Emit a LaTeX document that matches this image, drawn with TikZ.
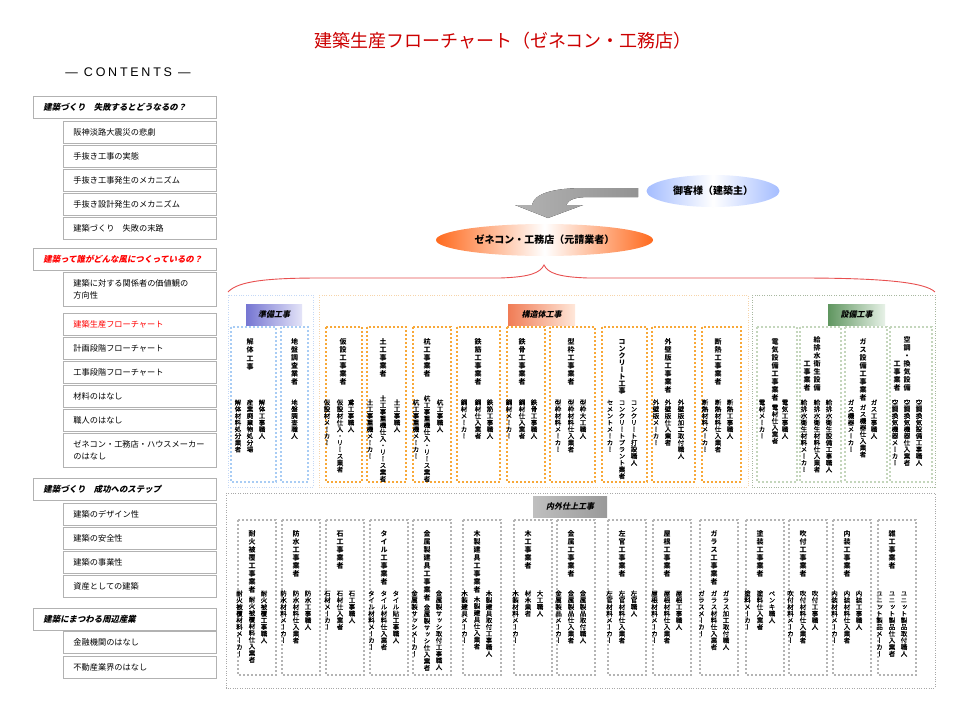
\documentclass[tikz,border=0pt]{standalone}
\usepackage{fontspec}
\setmainfont{Noto Sans CJK JP}
\newfontfamily\vfont{Noto Sans CJK JP}[RawFeature=+vert]
\newfontfamily\vsfont{Noto Sans CJK JP}[RawFeature=+vert, FakeBold=0.5]
\newfontfamily\hdfont{Noto Sans CJK JP}[FakeSlant=0.22]
\newfontfamily\latfont{Liberation Sans}[LetterSpace=22]
\usetikzlibrary{shapes.geometric}
\definecolor{titlered}{HTML}{CC0000}
\definecolor{custblue}{HTML}{A4BCFF}
\definecolor{genorange}{HTML}{FF6A1E}
\definecolor{bracered}{HTML}{E85050}
\definecolor{blueout}{HTML}{C4D8F6}
\definecolor{bluein}{HTML}{A8CCF4}
\definecolor{orout}{HTML}{F6D4AA}
\definecolor{orin}{HTML}{F8A838}
\definecolor{grout}{HTML}{A8B8A0}
\definecolor{grin}{HTML}{C4D6BC}
\definecolor{gyout}{HTML}{A8A8A8}
\definecolor{gyin}{HTML}{B4B4B4}
\def\vtgap{.5pt}
\ExplSyntaxOn
\NewDocumentCommand\vt{O{\vtgap}m}
 {
  \vbox:n
   {
    \offinterlineskip
    \tl_map_inline:nn {#2}
     {
      \hbox_to_wd:nn {1em} { \hss \rule[-.12em]{0pt}{1em} ##1 \hss }
      \kern #1
     }
   }
 }
\ExplSyntaxOff
\tikzset{
  sbsub/.style={draw=gray!60, line width=.9pt, anchor=north west, minimum height=22pt,
    text width=133pt, inner xsep=10pt, inner ysep=2pt, align=left,
    font=\fontsize{8.2}{12}\selectfont},
  sbhead/.style={sbsub, text width=163pt, font=\fontsize{8.4}{12}\selectfont\hdfont\bfseries},
  vtitle/.style={anchor=north, inner sep=0pt, font=\vfont\bfseries\fontsize{7}{7}\selectfont\def\vtgap{1pt}},
  vsub/.style={anchor=north, inner sep=0pt, font=\vsfont\fontsize{6.5}{6.5}\selectfont\def\vtgap{.2pt}},
  lbl/.style={anchor=north west, minimum height=21pt, inner sep=0pt, font=\hdfont\bfseries\fontsize{8}{10}\selectfont},
  outerdot/.style={line width=.8pt, dash pattern=on 1pt off 1.4pt},
  innerdot/.style={line width=2pt, dash pattern=on 2pt off 2pt},
}
\newcommand\vT[3]{\node[vtitle] (#1) at (#2) {\vt{#3}};}
\newcommand\vS[3]{\node[vsub] (#1) at (#2) {\vt{#3}};}
\newcommand\lowbox[7][590]{%
  \draw[innerdot, gyin] (#3,520) rectangle ++(38,155);
  \node[vtitle] (#2t) at ({#3+14},530) {\vt{#4}};
  \node[vsub] (#2r) at ({#3+26},590) {\vt{#5}};
  \node[vsub] (#2m) at ({#3+14},#1) {\vt{#6}};
  \node[vsub] (#2l) at ({#3+1.5},590) {\vt{#7}};
}
\begin{document}
\begin{tikzpicture}[x=1pt,y=-1pt]
\useasboundingbox (0,0) rectangle (960,720);
\fill[white] (0,0) rectangle (960,720);

% title
\node[text=titlered, font=\fontsize{18}{20}\selectfont] (title) at (503,41) {建築生産フローチャート（ゼネコン・工務店）};

% sidebar
\node[font=\latfont\fontsize{12.5}{14}\selectfont] (contents) at (128,72) {— CONTENTS —};
\node[sbhead] (h1) at (33,96) {建築づくり　失敗するとどうなるの？};
\node[sbsub] (s11) at (63,121) {阪神淡路大震災の悲劇};
\node[sbsub] (s12) at (63,145) {手抜き工事の実態};
\node[sbsub] (s13) at (63,169) {手抜き工事発生のメカニズム};
\node[sbsub] (s14) at (63,193) {手抜き設計発生のメカニズム};
\node[sbsub] (s15) at (63,217) {建築づくり　失敗の末路};
\node[sbhead, text=red] (h2) at (33,248) {建築って誰がどんな風につくっているの？};
\node[sbsub, minimum height=34pt] (s21) at (63,272) {建築に対する関係者の価値観の\\方向性};
\node[sbsub, text=red] (s22) at (63,313) {建築生産フローチャート};
\node[sbsub] (s23) at (63,337) {計画段階フローチャート};
\node[sbsub] (s24) at (63,361) {工事段階フローチャート};
\node[sbsub] (s25) at (63,385) {材料のはなし};
\node[sbsub] (s26) at (63,409) {職人のはなし};
\node[sbsub, minimum height=34pt] (s27) at (63,433) {ゼネコン・工務店・ハウスメーカー\\のはなし};
\node[sbhead] (h3) at (33,478) {建築づくり　成功へのステップ};
\node[sbsub] (s31) at (63,503) {建築のデザイン性};
\node[sbsub] (s32) at (63,527) {建築の安全性};
\node[sbsub] (s33) at (63,551) {建築の事業性};
\node[sbsub] (s34) at (63,575) {資産としての建築};
\node[sbhead] (h4) at (33,608) {建築にまつわる周辺産業};
\node[sbsub] (s41) at (63,631) {金融機関のはなし};
\node[sbsub] (s42) at (63,656) {不動産業界のはなし};

% customer and general contractor
\node[ellipse, minimum width=133pt, minimum height=32pt, inner sep=0pt,
  left color=custblue, right color=custblue, middle color=white,
  font=\bfseries\fontsize{10}{12}\selectfont] (cust) at (713,191) {御客様（建築主）};
\fill[left color=gray!60, middle color=gray!10, right color=gray!85]
  (638,188) -- (585,188) .. controls (552,188) and (534,194) .. (532,205)
  -- (515,205) -- (548,218) -- (583,205) -- (566,205)
  .. controls (569,199) and (576,197) .. (590,197) -- (638,197) -- cycle;
\node[ellipse, minimum width=217pt, minimum height=32pt, inner sep=0pt,
  left color=genorange, right color=genorange, middle color=white,
  font=\bfseries\fontsize{10}{12}\selectfont] (gen) at (544.5,240) {ゼネコン・工務店（元請業者）};

% brace
\draw[bracered, line width=.9pt]
  (228,292) .. controls (238,281) and (268,278) .. (320,278) -- (500,278)
  .. controls (530,277) and (540,273) .. (544,265)
  .. controls (548,273) and (558,277) .. (588,278) -- (800,278)
  .. controls (880,278) and (925,282) .. (935,292);

% group frames
\draw[outerdot, blueout] (228,295) rectangle (313,487);
\draw[outerdot, orout] (319,295) rectangle (748,487);
\draw[outerdot, grout] (752,295) rectangle (935,487);
\draw[outerdot, gyout] (226,493) rectangle (935,688);

% group labels
\node[lbl, minimum width=56pt, left color={rgb,255:red,118;green,118;blue,210}, right color={rgb,255:red,228;green,228;blue,248}] (lblprep) at (246,304) {準備工事};
\node[lbl, minimum width=67pt, left color={rgb,255:red,240;green,124;blue,86}, right color={rgb,255:red,255;green,232;blue,218}] (lblstruct) at (508,304) {構造体工事};
\node[lbl, minimum width=57pt, left color={rgb,255:red,96;green,150;blue,96}, right color={rgb,255:red,232;green,242;blue,232}] (lblequip) at (828,304) {設備工事};
\node[lbl, minimum width=74pt, left color=gray!50, middle color=gray!8, right color=gray!80] (lblfinish) at (533,496) {内外仕上工事};

% ---- preparation
\draw[innerdot, bluein] (231,327) rectangle (276,482);
\node[vtitle, font=\vfont\bfseries\fontsize{7}{7}\selectfont\def\vtgap{1.5pt}] (kaitaiT) at (250,338) {\vt{解体工事}};
\vS{kaitai1}{262,399}{解体工事職人}
\vS{kaitai2}{250,399}{産業廃棄物処分場}
\vS{kaitai3}{238,399}{解体材料処分業者}
\draw[innerdot, bluein] (281,327) rectangle (308,482);
\vT{jibanT}{294.5,338}{地盤調査業者}
\vS{jiban1}{294.5,399}{地盤調査職人}

% ---- structure
\draw[innerdot, orin] (326,327) rectangle (362,482);
\vT{kasetsuT}{343,338}{仮設工事業者}
\vS{kasetsu1}{351,399}{鳶工事職人}
\vS{kasetsu2}{340,399}{仮設材仕入・リース業者}
\vS{kasetsu3}{327,399}{仮設材メーカー}
\draw[innerdot, orin] (367,327) rectangle (406,482);
\vT{doT}{383,338}{土工事業者}
\vS{do1}{397,399}{土工事職人}
\vS{do2}{383,395}{土工事重機仕入・リース業者}
\vS{do3}{370,399}{土工事重機メーカー}
\draw[innerdot, orin] (413,327) rectangle (451,482);
\vT{kuiT}{427,338}{杭工事業者}
\vS{kui1}{440,399}{杭工事職人}
\vS{kui2}{427,395}{杭工事重機仕入・リース業者}
\vS{kui3}{416,399}{杭工事重機メーカー}
\draw[innerdot, orin] (457,327) rectangle (500,482);
\vT{tekkinT}{478,338}{鉄筋工事業者}
\vS{tekkin1}{490,399}{鉄筋工事職人}
\vS{tekkin2}{478,399}{鋼材仕入業者}
\vS{tekkin3}{464,399}{鋼材メーカー}
\draw[innerdot, orin] (507,327) rectangle (545,482);
\vT{tekkotsuT}{522,338}{鉄骨工事業者}
\vS{tekkotsu1}{534,399}{鉄骨工事職人}
\vS{tekkotsu2}{522,399}{鋼材仕入業者}
\vS{tekkotsu3}{509,399}{鋼材メーカー}
\draw[innerdot, orin] (550,327) rectangle (595,482);
\vT{katawakuT}{571,338}{型枠工事業者}
\vS{katawaku1}{583,399}{型枠大工職人}
\vS{katawaku2}{571,399}{型枠材料仕入業者}
\vS{katawaku3}{558,399}{型枠材料メーカー}
\draw[innerdot, orin] (602,327) rectangle (647,482);
\node[vtitle, font=\vfont\bfseries\fontsize{7}{7}\selectfont\def\vtgap{0pt}] (concT) at (622,338) {\vt{コンクリート工事}};
\vS{conc1}{634,399}{コンクリート打設職人}
\vS{conc2}{622,399}{コンクリートプラント業者}
\vS{conc3}{610,399}{セメントメーカー}
\draw[innerdot, orin] (652,327) rectangle (695,482);
\vT{gaihekiT}{668,338}{外壁版工事業者}
\vS{gaiheki1}{681,399}{外壁版加工取付職人}
\vS{gaiheki2}{668,399}{外壁版仕入業者}
\vS{gaiheki3}{656,399}{外壁版メーカー}
\draw[innerdot, orin] (702,327) rectangle (741,482);
\vT{dannetsuT}{718,338}{断熱工事業者}
\vS{dannetsu1}{730,399}{断熱工事職人}
\vS{dannetsu2}{718,399}{断熱材料仕入業者}
\vS{dannetsu3}{705,399}{断熱材料メーカー}

% ---- equipment
\draw[innerdot, grin] (757,327) rectangle (797,482);
\vT{denkiT}{775,338}{電気設備工事業者}
\vS{denki1}{785,399}{電気工事職人}
\vS{denki2}{775,404}{電材仕入業者}
\vS{denki3}{762,399}{電材メーカー}
\draw[innerdot, grin] (800,327) rectangle (841,482);
\node[vtitle, anchor=south] (kyuT1) at (817,393) {\vt{給排水衛生設備}};
\node[vtitle, anchor=south] (kyuT2) at (807,393) {\vt{工事業者}};
\vS{kyu1}{829,399}{給排水衛生設備工事職人}
\vS{kyu2}{817,399}{給排水衛生材料仕入業者}
\vS{kyu3}{804,399}{給排水衛生材料メーカー}
\draw[innerdot, grin] (845,327) rectangle (887,482);
\vT{gasT}{863,338}{ガス設備工事業者}
\vS{gas1}{874,399}{ガス工事職人}
\vS{gas2}{863,404}{ガス機器仕入業者}
\vS{gas3}{851,399}{ガス機器メーカー}
\draw[innerdot, grin] (890,327) rectangle (932,482);
\node[vtitle, anchor=south] (kuchoT1) at (907,393) {\vt{空調・換気設備}};
\node[vtitle, anchor=south] (kuchoT2) at (897,393) {\vt{工事業者}};
\vS{kucho1}{919,399}{空調換気設備工事職人}
\vS{kucho2}{907,399}{空調換気機器仕入業者}
\vS{kucho3}{895,399}{空調換気機器メーカー}

% ---- finishing
\lowbox[596]{taika}{238}{耐火被覆工事業者}{耐火被覆工事職人}{耐火被覆材料仕入業者}{耐火被覆材料メーカー}
\lowbox{bosui}{282}{防水工事業者}{防水工事職人}{防水材料仕入業者}{防水材料メーカー}
\lowbox{ishi}{326}{石工事業者}{石工事職人}{石材仕入業者}{石材メーカー}
\lowbox{tile}{370}{タイル工事業者}{タイル貼工事職人}{タイル材料仕入業者}{タイル材料メーカー}
\lowbox[604]{kinken}{413}{金属製建具工事業者}{金属製サッシ取付工事職人}{金属製サッシ仕入業者}{金属製サッシメーカー}
\lowbox[596]{mokken}{463}{木製建具工事業者}{木製建具取付工事職人}{木製建具仕入業者}{木製建具メーカー}
\lowbox{moku}{514}{木工事業者}{大工職人}{材木業者}{木製材料メーカー}
\lowbox{kinzoku}{557}{金属工事業者}{金属製品取付職人}{金属製品仕入業者}{金属製品メーカー}
\lowbox{sakan}{608}{左官工事業者}{左官職人}{左官材料仕入業者}{左官材料メーカー}
\lowbox{yane}{653}{屋根工事業者}{屋根工事職人}{屋根材料仕入業者}{屋根材料メーカー}
\lowbox{glass}{700}{ガラス工事業者}{ガラス加工取付職人}{ガラス材料仕入業者}{ガラスメーカー}
\lowbox{toso}{746}{塗装工事業者}{ペンキ職人}{塗料仕入業者}{塗料メーカー}
\lowbox{fuki}{789}{吹付工事業者}{吹付工事職人}{吹付材料仕入業者}{吹付材料メーカー}
\lowbox{naiso}{833}{内装工事業者}{内装工事職人}{内装材料仕入業者}{内装材料メーカー}
\lowbox{zatsu}{878}{雑工事業者}{ユニット製品取付職人}{ユニット製品仕入業者}{ユニット製品メーカー}
\end{tikzpicture}
\end{document}
